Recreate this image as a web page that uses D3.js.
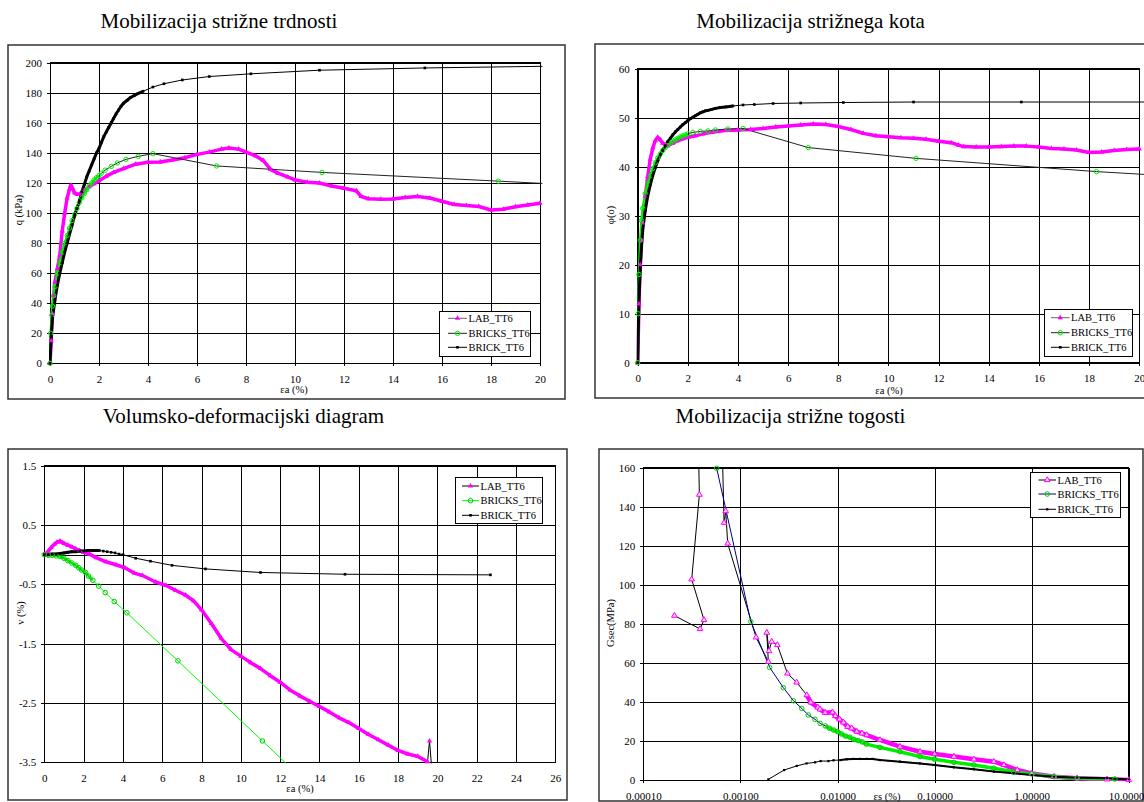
<!DOCTYPE html>
<html>
<head>
<meta charset="utf-8">
<script src="https://cdn.jsdelivr.net/npm/d3@7"></script>
<style>
  body { margin: 0; background: #fff; }
</style>
</head>
<body>
<svg id="chart" width="1144" height="802"></svg>
<script>
// ---- data ----
const seriesNames = ["LAB_TT6", "BRICKS_TT6", "BRICK_TT6"];
const panelTitles = ["Mobilizacija strižne trdnosti", "Mobilizacija strižnega kota",
                     "Volumsko-deformacijski diagram", "Mobilizacija strižne togosti"];

// panel 1: q (kPa) vs axial strain (%)
const qLab = [[0,0],[0.05,15],[0.1,33],[0.15,45],[0.2,54],[0.3,63],[0.4,72],[0.45,80],[0.5,88],[0.6,100],[0.7,110],[0.8,116],[0.85,118.5],[0.9,117],[1.0,113.5],[1.1,112.5],[1.2,112.5],[1.3,113.5],[1.4,115],[1.6,117.5],[1.8,119.5],[2.0,121.5],[2.3,124.5],[2.6,127],[3.0,129.5],[3.5,132.5],[4.0,133.8],[4.5,134],[5.0,135.2],[5.5,136.8],[6.0,139],[6.5,140.5],[7.0,142.5],[7.3,143.2],[7.7,142.5],[8.0,140.5],[8.4,138],[8.7,135],[9.0,129],[9.3,126.5],[9.7,124],[10.0,122],[10.5,120.5],[11.0,120],[11.5,118],[12.0,116.5],[12.5,114.8],[12.7,111],[13.0,109.5],[13.5,109.2],[14.0,109.3],[14.5,110.3],[15.0,111],[15.5,110],[16.0,107.8],[16.5,105.7],[17.0,105],[17.5,104.3],[18.0,102],[18.5,102.5],[19.0,104.2],[19.5,105.3],[20.0,106.5]];
const qBricks = [[0,0],[0.03,20],[0.07,32],[0.1,38],[0.15,45],[0.2,51],[0.3,60],[0.4,67],[0.5,74],[0.6,80],[0.7,85],[0.8,90],[0.9,95],[1.0,99],[1.1,103],[1.2,107],[1.3,110],[1.4,113],[1.5,115.5],[1.6,118],[1.7,120],[1.8,122],[1.9,123.5],[2.0,125],[2.1,126.5],[2.25,128.5],[2.5,131],[2.75,133.3],[3.1,135.7],[3.6,137.7],[4.2,139.5],[6.8,131.3],[11.1,127],[18.3,121.2],[20.1,119.7]];
const qBrick = [[0,0],[0.05,18],[0.1,30],[0.2,42],[0.3,52],[0.4,60],[0.5,67],[0.6,74],[0.7,80],[0.8,86],[0.9,92],[1.0,98],[1.1,103],[1.2,108],[1.3,114],[1.4,119],[1.5,124],[1.6,128],[1.7,132],[1.8,136],[1.9,140],[2.0,143],[2.1,147],[2.2,151],[2.3,154],[2.4,157],[2.5,160],[2.6,163],[2.7,166],[2.8,168.5],[2.9,171],[3.0,173],[3.15,175],[3.3,177],[3.45,178.3],[3.6,179.6],[3.8,181],[4.2,183.8],[4.65,186],[5.4,188.5],[6.5,190.8],[8.2,192.6],[11.0,195],[15.3,196.5],[20.1,197.6]];

// panel 2: friction angle (deg) vs axial strain (%)
const phiLab = [[0,0],[0.05,12],[0.1,20],[0.15,25],[0.2,28.5],[0.3,34],[0.4,38],[0.5,41.5],[0.6,43.8],[0.7,45.3],[0.8,46],[0.9,45.5],[1.0,44.8],[1.1,44.4],[1.2,44.3],[1.4,44.8],[1.6,45.3],[1.8,45.7],[2.0,46],[2.3,46.3],[2.6,46.7],[3.0,47.1],[3.5,47.4],[4.0,47.5],[4.5,47.6],[5.0,47.8],[5.5,48.1],[6.0,48.3],[6.5,48.5],[7.0,48.7],[7.5,48.6],[8.0,48.2],[8.5,47.6],[9.0,46.8],[9.5,46.3],[10.0,46.1],[10.5,45.9],[11.0,45.8],[11.5,45.6],[12.0,45.2],[12.5,44.9],[12.8,44.4],[13.0,44.1],[13.5,44.0],[14.0,44.0],[14.5,44.1],[15.0,44.2],[15.5,44.2],[16.0,44.0],[16.5,43.7],[17.0,43.6],[17.5,43.4],[18.0,42.9],[18.5,43.0],[19.0,43.3],[19.5,43.5],[20.0,43.6]];
const phiBricks = [[0,0],[0.02,10],[0.05,18],[0.1,25],[0.15,29],[0.2,31.5],[0.3,34.5],[0.4,36.5],[0.5,38.2],[0.6,39.6],[0.7,40.8],[0.8,41.8],[0.9,42.6],[1.0,43.3],[1.1,43.9],[1.2,44.4],[1.3,44.8],[1.4,45.2],[1.5,45.5],[1.6,45.8],[1.7,46.1],[1.8,46.3],[1.9,46.5],[2.0,46.7],[2.2,47],[2.5,47.2],[2.8,47.3],[3.1,47.5],[3.6,47.7],[4.2,47.8],[6.8,43.9],[11.1,41.7],[18.3,39.0],[20.3,38.4]];
const phiBrick = [[0,0],[0.03,8],[0.06,14],[0.1,19],[0.15,23.5],[0.2,27],[0.3,31],[0.4,34],[0.5,36.3],[0.6,38.2],[0.7,39.8],[0.8,41.2],[0.9,42.4],[1.0,43.4],[1.1,44.3],[1.2,45.1],[1.3,45.8],[1.4,46.5],[1.5,47.1],[1.6,47.6],[1.7,48.1],[1.8,48.6],[1.9,49],[2.0,49.4],[2.1,49.8],[2.2,50.1],[2.3,50.4],[2.4,50.7],[2.5,51],[2.6,51.2],[2.7,51.4],[2.8,51.5],[2.95,51.7],[3.1,51.9],[3.3,52.1],[3.5,52.2],[3.8,52.4],[4.2,52.6],[4.65,52.7],[5.4,52.9],[6.5,53.0],[8.2,53.1],[11.0,53.2],[15.3,53.2],[20.3,53.2]];

// panel 3: volumetric strain (%) vs axial strain (%)
const vLab = [[0,0],[0.1,0.02],[0.2,0.06],[0.35,0.12],[0.5,0.17],[0.65,0.21],[0.8,0.23],[0.9,0.21],[1.0,0.19],[1.2,0.16],[1.4,0.13],[1.6,0.1],[1.8,0.07],[2.0,0.04],[2.3,0.01],[2.64,-0.05],[3.14,-0.12],[3.65,-0.17],[4.1,-0.22],[4.57,-0.31],[5.0,-0.35],[5.66,-0.46],[6.2,-0.52],[6.67,-0.6],[7.18,-0.68],[7.6,-0.78],[8.0,-0.93],[8.5,-1.16],[9.0,-1.41],[9.5,-1.6],[10.0,-1.71],[10.5,-1.82],[11.0,-1.92],[11.5,-2.04],[12.0,-2.15],[12.5,-2.28],[13.0,-2.38],[13.5,-2.47],[14.0,-2.56],[14.5,-2.65],[15.0,-2.75],[15.5,-2.83],[16.0,-2.93],[16.5,-3.03],[17.0,-3.12],[17.5,-3.21],[18.0,-3.3],[18.5,-3.36],[19.0,-3.4],[19.5,-3.49],[19.6,-3.14],[19.7,-3.55],[19.85,-3.58]];
const vBricks = [[0,0],[0.2,-0.01],[0.4,-0.01],[0.6,-0.02],[0.8,-0.03],[1.0,-0.06],[1.2,-0.1],[1.4,-0.14],[1.6,-0.18],[1.75,-0.22],[1.9,-0.26],[2.1,-0.3],[2.25,-0.36],[2.47,-0.43],[2.77,-0.53],[3.1,-0.64],[3.56,-0.79],[4.2,-0.98],[6.8,-1.79],[11.1,-3.14],[18.3,-5.4]];
const vBrick = [[0,0],[0.2,0],[0.4,0.01],[0.6,0.01],[0.8,0.02],[1.0,0.03],[1.2,0.04],[1.4,0.05],[1.6,0.05],[1.8,0.06],[2.0,0.06],[2.2,0.07],[2.4,0.07],[2.6,0.07],[2.8,0.07],[3.0,0.06],[3.2,0.05],[3.4,0.04],[3.6,0.03],[3.8,0.01],[4.0,0],[4.65,-0.06],[5.4,-0.11],[6.5,-0.18],[8.2,-0.24],[11.0,-0.30],[15.3,-0.33],[22.7,-0.34]];

// panel 4: secant shear modulus (MPa) vs shear strain (%), log x
const gLab = [[2.09e-4,84.2],[3.84e-4,77.4],[4.22e-4,82],[3.15e-4,102.8],[3.78e-4,146.2],[3.65e-4,185],[6.5e-4,170],[6.79e-4,131.8],[7.06e-4,137.8],[7.4e-4,121.2],[1.45e-3,73.1],[1.94e-3,60.6],[1.87e-3,75.5],[1.97e-3,66.1],[2.1e-3,70.9],[2.4e-3,69.2],[3.05e-3,54.6],[3.8e-3,50],[4.83e-3,43.5],[5.3e-3,39.8],[6.27e-3,37.2],[6.6e-3,36.2],[7.46e-3,34.5],[8.88e-3,34.7],[9.5e-3,32.8],[1.05e-2,31.1],[1.15e-2,29.5],[1.27e-2,27.3],[1.4e-2,26.5],[1.58e-2,24.8],[1.79e-2,23.9],[2.0e-2,23.0],[2.74e-2,20.5],[4.4e-2,17.1],[7.08e-2,14.5],[0.1,13.3],[0.158,12],[0.254,10.6],[0.408,9.4],[0.517,7.7],[0.71,5.1],[1,3.4],[1.7,1.7],[2.94,0.85],[5.98,0.34],[10,0]];
const gBricks = [[5.7e-4,159.7],[1.28e-3,81.1],[2.0e-3,57.7],[2.77e-3,47.3],[3.52e-3,40.6],[4.28e-3,36.7],[5.0e-3,33.3],[5.86e-3,31.1],[6.62e-3,29.0],[7.5e-3,27.7],[8.27e-3,26.5],[9.1e-3,25.6],[1e-2,24.8],[1.1e-2,23.6],[1.21e-2,22.5],[1.34e-2,21.9],[1.47e-2,20.8],[1.63e-2,20.2],[1.8e-2,19.5],[1.98e-2,18.4],[2.74e-2,16.7],[4.4e-2,14.5],[7.08e-2,12],[0.1,10.6],[0.158,9.05],[0.254,7.7],[0.408,6],[0.65,4.3],[1,3.1],[1.7,1.7],[2.94,0.85],[7.2,0.5]];
const gBrick = [[1.94e-3,0.3],[2.82e-3,5.1],[3.8e-3,7.2],[4.8e-3,8.5],[5.88e-3,9.05],[6.7e-3,9.7],[8.07e-3,9.7],[9.1e-3,10.1],[1.07e-2,10.2],[1.24e-2,10.6],[1.46e-2,10.8],[1.7e-2,10.8],[2.0e-2,10.8],[2.3e-2,10.8],[2.74e-2,10.2],[4.4e-2,9.4],[7.08e-2,8.5],[0.1,7.7],[0.158,6.5],[0.254,5.5],[0.408,4.3],[0.65,3.4],[1,2.6],[1.7,1.7],[2.94,1.2],[5.98,0.85],[10,0.3]];

// tick values
const strainTicks20 = [0,2,4,6,8,10,12,14,16,18,20];
const strainTicks26 = [0,2,4,6,8,10,12,14,16,18,20,22,24,26];
const qTicks = [0,20,40,60,80,100,120,140,160,180,200];
const phiTicks = [0,10,20,30,40,50,60];
const vTicks = [1.5,0.5,-0.5,-1.5,-2.5,-3.5];
const gTicks = [0,20,40,60,80,100,120,140,160];
const gammaTicks = [0.0001,0.001,0.01,0.1,1,10];

const FONT = "'Liberation Serif', 'Times New Roman', Times, serif";
const svg = d3.select("#chart");

// series styles per panel
const styleTop = [
  {line: "#666", band: "#ff00ff", bandW: 3.5, bandIf: d => true, marker: "tri", fill: "#ff00ff", stroke: "#ff00ff", size: 12},
  {line: "#222", band: "#00ee00", bandW: 2.5, bandIf: d => d[0] <= 2.0, marker: "circle", fill: "none", stroke: "#00ee00", size: 2.2},
  {line: "#000", band: "#000", bandW: 3, bandIf: d => d[0] <= 3.8, marker: "square", fill: "#000", stroke: "#000", size: 7}
];
const styleVol = [
  {line: "#000", band: "#ff00ff", bandW: 3.5, bandIf: d => d[0] < 19.55, marker: "tri", fill: "#ff00ff", stroke: "#ff00ff", size: 12},
  {line: "#00ff00", band: "#00ee00", bandW: 2.5, bandIf: d => d[0] <= 2.5, marker: "circle", fill: "none", stroke: "#00cc00", size: 2.3},
  {line: "#000", band: "#000", bandW: 3, bandIf: d => d[0] <= 2.8, marker: "square", fill: "#000", stroke: "#000", size: 7}
];
const styleG = [
  {line: "#000", band: "#ff00ff", bandW: 4.5, bandIf: d => d[0] >= 4.5e-3, marker: "tri", fill: "#ffd0ff", stroke: "#ff00ff", size: 14},
  {line: "#000080", band: "#00ee00", bandW: 3.5, bandIf: d => d[0] >= 7e-3, marker: "circle", fill: "none", stroke: "#00cc00", size: 2.3},
  {line: "#000", band: "#000", bandW: 2, bandIf: d => d[0] >= 1e-2, marker: "square", fill: "#000", stroke: "#000", size: 5}
];

function drawMarker(g, style, px, py) {
  if (style.marker === "circle") {
    g.append("circle").attr("cx", px).attr("cy", py).attr("r", style.size)
      .attr("fill", style.fill).attr("stroke", style.stroke).attr("stroke-width", 1);
  } else {
    const type = style.marker === "tri" ? d3.symbolTriangle : d3.symbolSquare;
    g.append("path").attr("d", d3.symbol(type, style.size)()).attr("transform", `translate(${px},${py})`)
      .attr("fill", style.fill).attr("stroke", style.stroke)
      .attr("stroke-width", style.fill !== style.stroke ? 1 : 0);
  }
}

function label(sel, size) {
  return sel.style("font-family", FONT).style("font-size", size + "px").attr("fill", "#000");
}

let clipCount = 0;
function drawPanel(p) {
  const g = svg.append("g");
  const [xl, xr] = p.x.range(), [yb, yt] = p.y.range();

  g.append("rect").attr("x", p.frame[0]).attr("y", p.frame[1]).attr("width", p.frame[2]).attr("height", p.frame[3])
    .attr("fill", "#fff").attr("stroke", "#333").attr("stroke-width", 1.5);
  label(svg.append("text").attr("x", p.titlePos[0]).attr("y", p.titlePos[1]).attr("text-anchor", "middle"), 21)
    .text(p.title);

  // grid lines
  g.append("g").attr("transform", `translate(0,${yb})`)
    .call(d3.axisBottom(p.x).tickValues(p.xTicks).tickSize(-(yb - yt)).tickFormat(""))
    .call(a => a.select(".domain").remove())
    .call(a => a.selectAll("line").attr("stroke", "#000").attr("shape-rendering", "crispEdges"));
  g.append("g").attr("transform", `translate(${xl},0)`)
    .call(d3.axisLeft(p.y).tickValues(p.yTicks).tickSize(-(xr - xl)).tickFormat(""))
    .call(a => a.select(".domain").remove())
    .call(a => a.selectAll("line").attr("stroke", "#000").attr("shape-rendering", "crispEdges"));

  // tick labels
  const xAxis = g.append("g").attr("transform", `translate(0,${yb})`)
    .call(d3.axisBottom(p.x).tickValues(p.xTicks).tickSize(p.zeroAxis ? 0 : 3).tickPadding(p.zeroAxis ? 12 : 9).tickFormat(p.xFmt));
  const yAxis = g.append("g").attr("transform", `translate(${xl},0)`)
    .call(d3.axisLeft(p.y).tickValues(p.yTicks).tickSize(3).tickPadding(5).tickFormat(p.yFmt));
  [xAxis, yAxis].forEach(a => {
    a.attr("font-family", null).attr("font-size", null);
    a.select(".domain").remove();
    a.selectAll("line").attr("stroke", "#000").attr("shape-rendering", "crispEdges");
    label(a.selectAll("text"), 11);
  });

  if (p.zeroAxis) {
    g.append("g").attr("transform", `translate(0,${p.y(0)})`)
      .call(d3.axisTop(p.x).tickValues(p.xTicks).tickSizeInner(3).tickSizeOuter(0).tickFormat(""))
      .call(a => a.selectAll("line,path").attr("stroke", "#000").attr("shape-rendering", "crispEdges"));
  }

  g.append("rect").attr("x", xl).attr("y", yt).attr("width", xr - xl).attr("height", yb - yt)
    .attr("fill", "none").attr("stroke", "#000").attr("stroke-width", 1).attr("shape-rendering", "crispEdges");

  // axis titles
  label(svg.append("text").attr("x", p.xTitle[0]).attr("y", p.xTitle[1]).attr("text-anchor", "middle"), 10.5)
    .text(p.xTitle[2]);
  label(svg.append("text").attr("transform", `translate(${p.yTitle[0]},${p.yTitle[1]}) rotate(-90)`)
    .attr("text-anchor", "middle").attr("dy", "0.35em"), 10.5).text(p.yTitle[2]);

  // series
  const id = "clip" + (clipCount++);
  svg.append("clipPath").attr("id", id).append("rect")
    .attr("x", xl - 1).attr("y", yt - p.clipPad).attr("width", xr - xl + 1 + p.clipPad).attr("height", yb - yt + 1 + p.clipPad);
  const plot = svg.append("g").attr("clip-path", `url(#${id})`);
  const marks = svg.append("g");
  const line = d3.line().x(d => p.x(d[0])).y(d => p.y(d[1]));
  const [dx0, dx1] = p.x.domain(), [dy0, dy1] = p.y.domain();

  p.series.forEach((data, i) => {
    const s = p.styles[i];
    plot.append("path").attr("d", line(data)).attr("fill", "none").attr("stroke", s.line).attr("stroke-width", 1);
    plot.append("path").attr("d", line(data.filter(s.bandIf))).attr("fill", "none")
      .attr("stroke", s.band).attr("stroke-width", s.bandW).attr("stroke-linejoin", "round");
    data.filter(d => d[0] >= dx0 && d[0] <= dx1 && d[1] >= dy0 && d[1] <= dy1)
      .forEach(d => drawMarker(marks, s, p.x(d[0]), p.y(d[1])));
  });

  // legend
  const L = p.legend;
  svg.append("rect").attr("x", L.box[0]).attr("y", L.box[1]).attr("width", L.box[2]).attr("height", L.box[3])
    .attr("fill", "#fff").attr("stroke", "#000").attr("stroke-width", 1).attr("shape-rendering", "crispEdges");
  seriesNames.forEach((name, i) => {
    const s = p.styles[i], ry = L.rows[i];
    const lg = svg.append("g");
    lg.append("line").attr("x1", L.sample[0]).attr("x2", L.sample[1]).attr("y1", ry).attr("y2", ry)
      .attr("stroke", s.line).attr("stroke-width", 1);
    drawMarker(lg, s, (L.sample[0] + L.sample[1]) / 2, ry);
    label(lg.append("text").attr("x", L.sample[1] + 1.5).attr("y", ry).attr("dy", "0.35em"), 10.5).text(name);
  });
}

const plain = d => String(d);

drawPanel({
  frame: [8, 45, 557, 354], title: panelTitles[0], titlePos: [219, 28],
  x: d3.scaleLinear().domain([0, 20]).range([50, 540]),
  y: d3.scaleLinear().domain([0, 200]).range([363.3, 62.7]),
  xTicks: strainTicks20, yTicks: qTicks, xFmt: plain, yFmt: plain,
  xTitle: [294, 393, "εa (%)"], yTitle: [18, 210, "q (kPa)"], clipPad: 4,
  series: [qLab, qBricks, qBrick], styles: styleTop,
  legend: {box: [439, 311, 91, 45], rows: [318.3, 333.3, 347.3], sample: [448, 467]}
});

drawPanel({
  frame: [595, 44, 600, 354], title: panelTitles[1], titlePos: [810.5, 28],
  x: d3.scaleLinear().domain([0, 20]).range([637.7, 1139.2]),
  y: d3.scaleLinear().domain([0, 60]).range([362.7, 68.7]),
  xTicks: strainTicks20, yTicks: phiTicks, xFmt: plain, yFmt: plain,
  xTitle: [889, 394, "εa (%)"], yTitle: [610, 215, "φ(o)"], clipPad: 8,
  series: [phiLab, phiBricks, phiBrick], styles: styleTop,
  legend: {box: [1044, 309, 88, 47], rows: [317.7, 332.7, 347.3], sample: [1051, 1069.5]}
});

drawPanel({
  frame: [8, 449, 559, 351], title: panelTitles[2], titlePos: [243.5, 423],
  x: d3.scaleLinear().domain([0, 26]).range([44.3, 555.3]),
  y: d3.scaleLinear().domain([-3.5, 1.5]).range([762.3, 465.7]),
  xTicks: strainTicks26, yTicks: vTicks, xFmt: plain, yFmt: plain, zeroAxis: true,
  xTitle: [300, 792, "εa (%)"], yTitle: [20, 613, "v (%)"], clipPad: 0,
  series: [vLab, vBricks, vBrick], styles: styleVol,
  legend: {box: [455, 477, 87, 46], rows: [486, 500.7, 515.3], sample: [462, 479]}
});

drawPanel({
  frame: [599, 449, 544, 352], title: panelTitles[3], titlePos: [790.5, 423],
  x: d3.scaleLog().domain([0.0001, 10]).range([643.3, 1128.8]),
  y: d3.scaleLinear().domain([0, 160]).range([780, 467.7]),
  xTicks: gammaTicks, yTicks: gTicks, xFmt: d3.format(".5f"), yFmt: plain,
  xTitle: [887, 800, "εs (%)"], yTitle: [610, 623, "Gsec(MPa)"], clipPad: 0,
  series: [gLab, gBricks, gBrick], styles: styleG,
  legend: {box: [1030, 472, 90, 45], rows: [480, 494, 509.3], sample: [1038.5, 1056]}
});
</script>
</body>
</html>
